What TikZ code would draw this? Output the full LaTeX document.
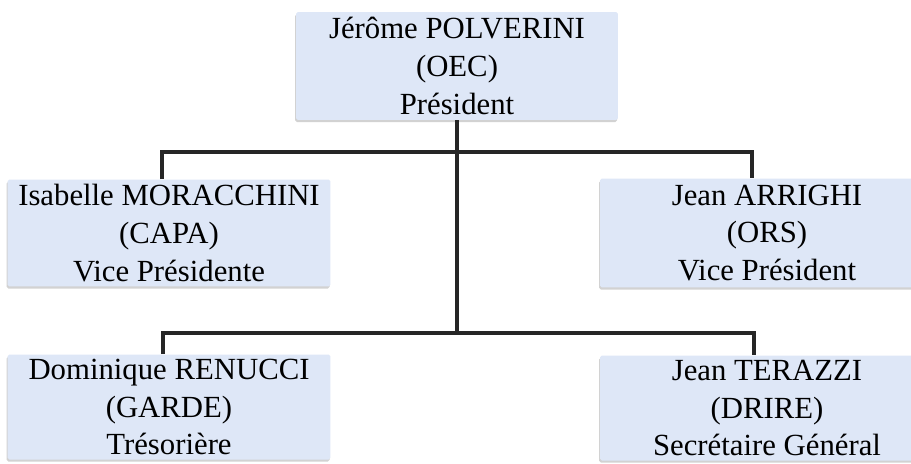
\documentclass[tikz,border=0pt]{standalone}
\usepackage{fontspec}
\setmainfont{Liberation Serif}
\usetikzlibrary{shadows}
\definecolor{boxblue}{RGB}{222,231,247}
\begin{document}
\begin{tikzpicture}[x=0.02cm, y=-0.02cm,
  member/.style={fill=boxblue, align=center, inner sep=0pt, rounded corners=1pt,
    font=\fontsize{17.5}{21.5}\selectfont,
    drop shadow={shadow xshift=-0.5pt, shadow yshift=-1.2pt, opacity=0.35}},
  link/.style={line width=2.3pt, draw=black!85, line join=miter}]
\useasboundingbox[fill=white] (0,0) rectangle (911,463);
\node[member, minimum width=6.44cm, minimum height=2.16cm] (pres) at (457,66) {Jérôme POLVERINI\\(OEC)\\Président};
\node[member, minimum width=6.46cm, minimum height=2.14cm] (vpa) at (169,233) {Isabelle MORACCHINI\\(CAPA)\\Vice Présidente};
\node[member, minimum width=6.68cm, minimum height=2.18cm] (vpb) at (767,233) {Jean ARRIGHI\\(ORS)\\Vice Président};
\node[member, minimum width=6.46cm, minimum height=2.1cm] (tres) at (169,407) {Dominique RENUCCI\\(GARDE)\\Trésorière};
\node[member, minimum width=6.68cm, minimum height=2.1cm] (sec) at (767,408) {Jean TERAZZI\\(DRIRE)\\Secrétaire Général};
% junctions of the tree
\coordinate (al) at (162,152);
\coordinate (ar) at (752,152);
\coordinate (bl) at (163,333);
\coordinate (br) at (754,333);
\coordinate (jb) at (457,333);
\draw[link] (pres.south) -- (jb);
\draw[link] (vpa.north -| al) -- (al) -- (ar) -- (vpb.north -| ar);
\draw[link] (tres.north -| bl) -- (bl) -- (br) -- (sec.north -| br);
\end{tikzpicture}
\end{document}
